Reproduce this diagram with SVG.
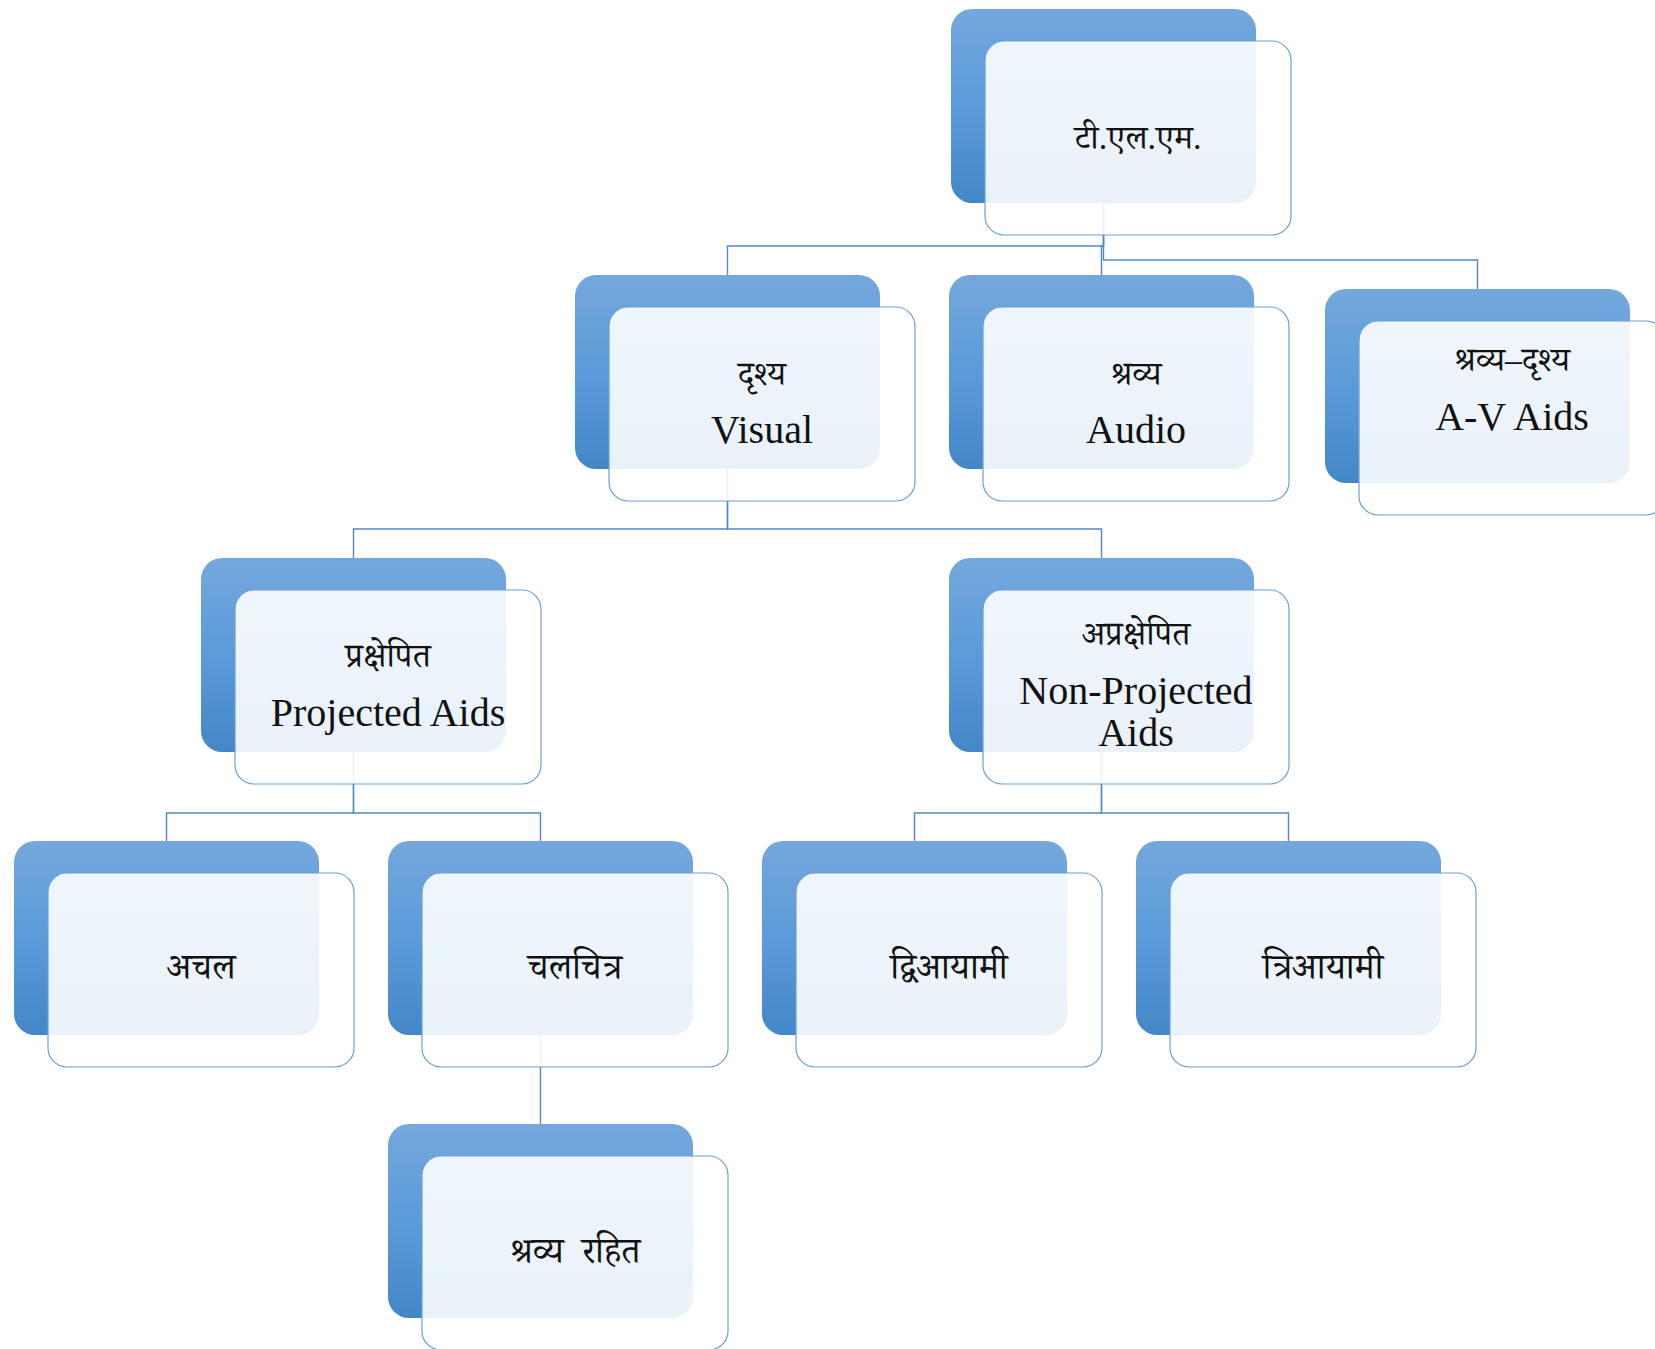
<svg xmlns="http://www.w3.org/2000/svg" width="1655" height="1349" viewBox="0 0 1655 1349">
<defs>
<linearGradient id="gb" x1="0" y1="0" x2="0" y2="1">
<stop offset="0" stop-color="#74a8dd"/>
<stop offset="0.5" stop-color="#5b9bd9"/>
<stop offset="1" stop-color="#4387c7"/>
</linearGradient>
<style>
.back{fill:url(#gb);}
.front{fill:#ffffff;fill-opacity:0.89;stroke:#6a9fd8;stroke-width:1.2;}
.conn{fill:none;stroke:#5089c8;stroke-width:1.4;}
.hi{font-family:"Liberation Serif","Noto Serif Devanagari","Noto Sans Devanagari","Lohit Devanagari","FreeSerif",serif;font-size:34px;fill:#111;text-anchor:middle;}
.big{font-size:36px;}
.en{font-family:"Liberation Serif","Times New Roman",serif;font-size:40px;fill:#111;text-anchor:middle;}
</style>
</defs>
<rect width="1655" height="1349" fill="#ffffff"/>
<g id="connectors">
<path class="conn" d="M1103.5,203 V246 H727.5 V275"/>
<path class="conn" d="M1103.5,203 V246 H1101.5 V275"/>
<path class="conn" d="M1103.5,203 V260 H1477.5 V289"/>
<path class="conn" d="M727.5,469 V529 H353.5 V558"/>
<path class="conn" d="M727.5,469 V529 H1101.5 V558"/>
<path class="conn" d="M353.5,752 V813 H166.5 V841"/>
<path class="conn" d="M353.5,752 V813 H540.5 V841"/>
<path class="conn" d="M1101.5,752 V813 H914.5 V841"/>
<path class="conn" d="M1101.5,752 V813 H1288.5 V841"/>
<path class="conn" d="M540.5,1035 V1124"/>
</g>
<g id="n-tlm">
<rect class="back" x="951" y="9" width="305" height="194" rx="21"/>
<rect class="front" x="985" y="41" width="306" height="194" rx="19"/>
<text class="hi" x="1138" y="149">टी.एल.एम.</text>
</g>
<g id="n-visual">
<rect class="back" x="575" y="275" width="305" height="194" rx="21"/>
<rect class="front" x="609" y="307" width="306" height="194" rx="19"/>
<text class="hi" x="762" y="385">दृश्य</text>
<text class="en" x="762" y="443">Visual</text>
</g>
<g id="n-audio">
<rect class="back" x="949" y="275" width="305" height="194" rx="21"/>
<rect class="front" x="983" y="307" width="306" height="194" rx="19"/>
<text class="hi" x="1136" y="385">श्रव्य</text>
<text class="en" x="1136" y="443">Audio</text>
</g>
<g id="n-av">
<rect class="back" x="1325" y="289" width="305" height="194" rx="21"/>
<rect class="front" x="1359" y="321" width="306" height="194" rx="19"/>
<text class="hi" x="1512" y="371">श्रव्य–दृश्य</text>
<text class="en" x="1512" y="430">A-V Aids</text>
</g>
<g id="n-projected">
<rect class="back" x="201" y="558" width="305" height="194" rx="21"/>
<rect class="front" x="235" y="590" width="306" height="194" rx="19"/>
<text class="hi" x="388" y="667">प्रक्षेपित</text>
<text class="en" x="388" y="726">Projected Aids</text>
</g>
<g id="n-nonprojected">
<rect class="back" x="949" y="558" width="305" height="194" rx="21"/>
<rect class="front" x="983" y="590" width="306" height="194" rx="19"/>
<text class="hi" x="1136" y="645">अप्रक्षेपित</text>
<text class="en" x="1136" y="704">Non-Projected</text>
<text class="en" x="1136" y="746">Aids</text>
</g>
<g id="n-achal">
<rect class="back" x="14" y="841" width="305" height="194" rx="21"/>
<rect class="front" x="48" y="873" width="306" height="194" rx="19"/>
<text class="hi big" x="201" y="979">अचल</text>
</g>
<g id="n-chalchitra">
<rect class="back" x="388" y="841" width="305" height="194" rx="21"/>
<rect class="front" x="422" y="873" width="306" height="194" rx="19"/>
<text class="hi big" x="575" y="979">चलचित्र</text>
</g>
<g id="n-dvi">
<rect class="back" x="762" y="841" width="305" height="194" rx="21"/>
<rect class="front" x="796" y="873" width="306" height="194" rx="19"/>
<text class="hi big" x="949" y="979">द्विआयामी</text>
</g>
<g id="n-tri">
<rect class="back" x="1136" y="841" width="305" height="194" rx="21"/>
<rect class="front" x="1170" y="873" width="306" height="194" rx="19"/>
<text class="hi big" x="1323" y="979">त्रिआयामी</text>
</g>
<g id="n-rahit">
<rect class="back" x="388" y="1124" width="305" height="194" rx="21"/>
<rect class="front" x="422" y="1156" width="306" height="194" rx="19"/>
<text class="hi big" x="575" y="1263" xml:space="preserve">श्रव्य  रहित</text>
</g>
</svg>
